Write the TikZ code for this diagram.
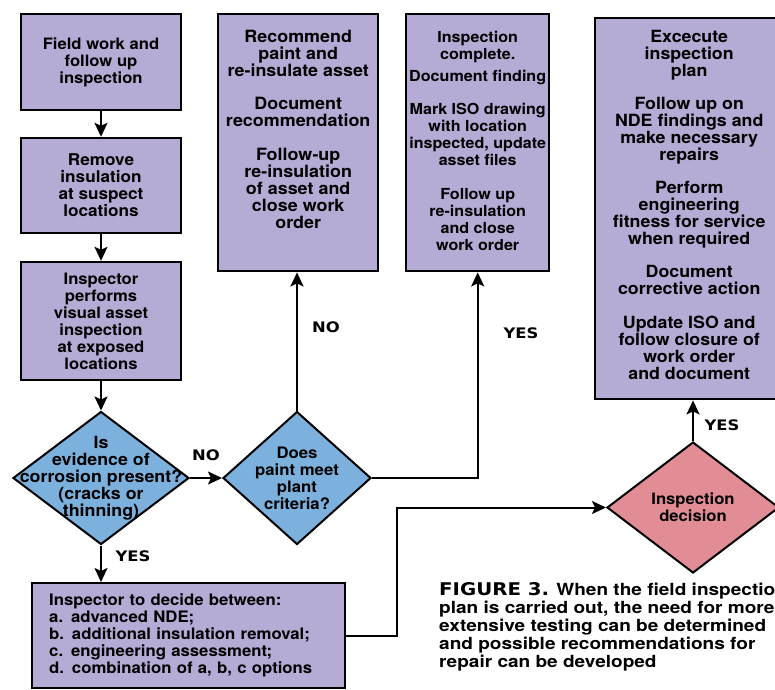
\documentclass[tikz,border=0pt]{standalone}
\usepackage{fontspec}
\setmainfont{TeX Gyre Heros}[FakeStretch=1.06]
\newfontfamily\captionfont{TeX Gyre Heros}[FakeStretch=1.14]
\newfontfamily\heavyfont{DejaVu Sans}[FakeStretch=1.13]
\usepackage{xcolor}
\usetikzlibrary{shapes.geometric, arrows.meta, positioning}
\definecolor{boxpurple}{RGB}{181,171,212}
\definecolor{askblue}{RGB}{124,177,222}
\definecolor{decidepink}{RGB}{226,140,150}

\begin{document}
\begin{tikzpicture}[x=1pt, y=-1pt,
  procbox/.style={draw, line width=2.4pt, fill=boxpurple, inner sep=0pt, align=center,
    font=\fontsize{#1}{17}\selectfont\bfseries},
  procbox/.default=16.8,
  boxtext/.style={inner sep=0pt, align=center, font=\fontsize{#1}{17}\selectfont\bfseries},
  boxtext/.default=16.8,
  ask/.style={draw, diamond, line width=2pt, inner sep=0pt},
  flag/.style={inner sep=0pt, font=\fontsize{14.5}{17}\selectfont\heavyfont\bfseries},
  flow/.style={line width=2pt, -{Stealth[length=14pt, width=13pt, inset=3pt]}}]
  \useasboundingbox (0,0) rectangle (775,689);

  % Left column
  \node[procbox=15.7, minimum width=160pt, minimum height=96pt] (field) at (101,62) {Field work and\\follow up\\inspection};
  \node[procbox=16.2, minimum width=160pt, minimum height=95pt] (remove) at (101,185.5) {Remove\\insulation\\at suspect\\locations};
  \node[procbox=15.7, minimum width=160pt, minimum height=118pt] (visual) at (101,321) {Inspector\\performs\\visual asset\\inspection\\at exposed\\locations};
  \node[ask, fill=askblue, minimum width=176pt, minimum height=133pt] (corrosion) at (101,478) {};
  \node[boxtext] (corrosiontxt) at (corrosion) {Is\\evidence of\\corrosion present?\\(cracks or\\thinning)};
  \node[procbox=15.8, align=left, text width=279pt, inner xsep=17pt, minimum height=105pt, anchor=north west] (decide) at (31,582)
    {Inspector to decide between:\\a. advanced NDE;\\b. additional insulation removal;\\c. engineering assessment;\\d. combination of a, b, c options};

  % Paint check
  \node[ask, fill=askblue, minimum width=148pt, minimum height=133pt] (paint) at (297,478) {};
  \node[boxtext=15.8] (painttxt) at (paint) {Does\\paint meet\\plant\\criteria?};
  \node[procbox, minimum width=160pt, minimum height=257pt, anchor=north west] (recommend) at (217,13) {};
  \node[boxtext=16.9, below=17pt of recommend.north] (recommendtxt)
    {Recommend\\paint and\\re-insulate asset\\[16pt]Document\\recommendation\\[17pt]Follow-up\\re-insulation\\of asset and\\close work\\order};
  \node[procbox, minimum width=143pt, minimum height=257pt, anchor=north west] (complete) at (405,13) {};
  \node[boxtext=15.2, below=17.5pt of complete.north] (completetxt)
    {Inspection\\complete.\\[5pt]Document finding\\[16pt]Mark ISO drawing\\with location\\inspected, update\\asset files\\[17pt]Follow up\\re-insulation\\and close\\work order};

  % Right: decision and plan
  \node[procbox, minimum width=188pt, minimum height=381pt, anchor=north west] (execute) at (594,17) {};
  \node[boxtext, below=13pt of execute.north] (executetxt)
    {Excecute\\inspection\\plan\\[16pt]Follow up on\\NDE findings and\\make necessary\\repairs\\[16pt]Perform\\engineering\\fitness for service\\when required\\[16pt]Document\\corrective action\\[17pt]Update ISO and\\follow closure of\\work order\\and document};
  \node[ask, fill=decidepink, minimum width=172pt, minimum height=131pt] (decision) at (693,507.5) {};
  \node[boxtext=15.7] (decisiontxt) at (decision) {Inspection\\decision};

  % Connectors
  \draw[flow] (field) -- (remove);
  \draw[flow] (remove) -- (visual);
  \draw[flow] (visual) -- (corrosion);
  \draw[flow] (corrosion) -- (paint);
  \draw[flow] (corrosion.south) -- (corrosion.south |- decide.north);
  \draw[flow] (paint.north) -- (paint.north |- recommend.south);
  \draw[flow] (paint.east) -| (complete.south);
  \draw[flow] (decide.east) -- ++(51,0) |- (decision.west);
  \draw[flow] (decision.north) -- (decision.north |- execute.south);

  \node[flag] (noright) at (206,455) {NO};
  \node[flag] (yesdown) at (133,556) {YES};
  \node[flag] (noup) at (326,327) {NO};
  \node[flag] (yespaint) at (521,333) {YES};
  \node[flag] (yesplan) at (722,425) {YES};

  % Caption
  \node[anchor=north west, inner sep=0pt, align=left, font=\fontsize{16.7}{18}\selectfont\captionfont\bfseries] (caption) at (439,582)
    {{\heavyfont\fontsize{17.5}{18}\selectfont FIGURE 3.} When the field inspection\\plan is carried out, the need for more\\extensive testing can be determined\\and possible recommendations for\\repair can be developed};
\end{tikzpicture}
\end{document}
